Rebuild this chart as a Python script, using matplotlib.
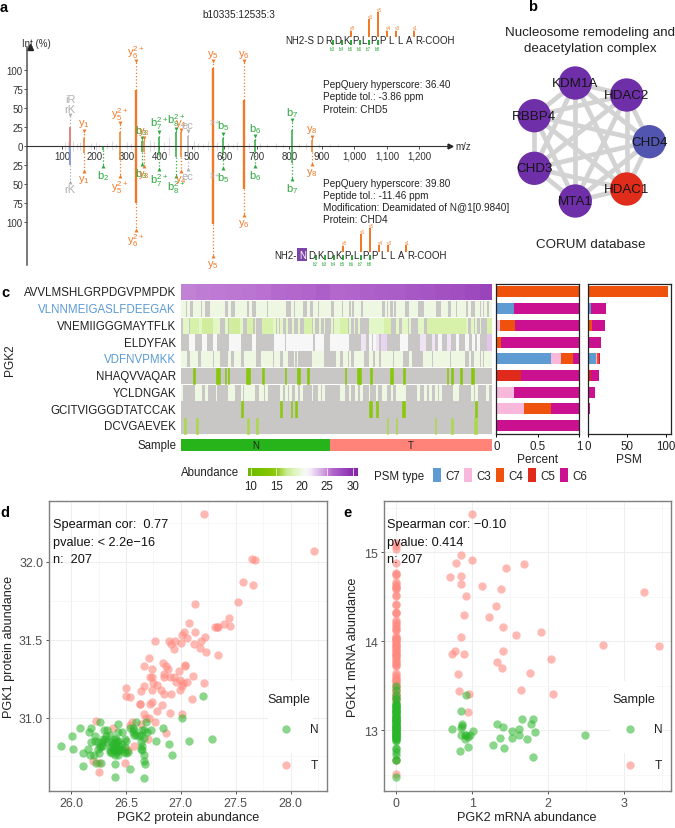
import numpy as np
import matplotlib
matplotlib.use('Agg')
import matplotlib.pyplot as plt
from matplotlib.colors import LinearSegmentedColormap
from matplotlib.cm import ScalarMappable
from matplotlib.colors import Normalize
from matplotlib.patches import Rectangle

plt.rcParams['font.family'] = ['Liberation Sans', 'DejaVu Sans']
plt.rcParams['mathtext.default'] = 'regular'

W, H = 675, 829

# panel a: spectrum
peak_mz = [125, 168, 226, 278, 328, 345, 352, 398, 450, 467, 487, 564, 596, 660, 694, 807, 869]
peak_kind = ['g', 'y', 'b', 'y', 'y', 'b', 'y', 'b', 'b', 'y', 'g', 'y', 'b', 'y', 'b', 'b', 'y']
peak_names = ['rK', 'y$_1$', 'b$_2$', 'y$_5^{2+}$', 'y$_6^{2+}$', 'b$_3$', 'y$_3$', 'b$_7^{2+}$',
              'b$_8^{2+}$', 'y$_4$', 'ec', 'y$_5$', 'b$_5$', 'y$_6$', 'b$_6$', 'b$_7$', 'y$_8$']
top_int = [25, 10, 0, 18, 73, 6, 6, 12, 18, 18, 13, 102, 10, 60, 8, 21, 8]
top_mark = [40, 20, np.nan, 30, 111, 10, 10, 18, 22, 21, 19, 111, 16, 111, 13, 34, 12]
bot_int = [25, 10, 5, 18, 75, 8, 8, 12, 15, 14, 12, 103, 10, 57, 8, 22, 8]
bot_mark = [47, 33, 26, 40, 110, 24, 26, 30, 40, 33, 30, 145, 29, 91, 26, 44, 24]
noise_mz = [108, 118, 135, 145, 155, 190, 205, 215, 240, 255, 265, 300, 312, 372, 382, 415, 430,
            505, 520, 535, 550, 578, 612, 625, 640, 675, 710, 730, 760, 780, 830, 850, 890, 925, 950]
noise_int = [5, 6, 7, 4, 5, 4, 5, 3, 4, 6, 3, 5, 4, 8, 6, 5, 12, 7, 4, 3, 6, 5, 4, 3, 5, 4, 4, 3, 4, 3, 3, 4, 3, 2, 2]

mz_ticks = [100, 200, 300, 400, 500, 600, 700, 800, 900, 1000, 1100, 1200]
mz_labels = ['100', '200', '300', '400', '500', '600', '700', '800', '900', '1,000', '1,100', '1,200']
int_ticks = [100, 75, 50, 25, 0, -25, -50, -75, -100]

top_residues = ['', 'D', 'R', 'D', 'K', 'P', 'L', 'P', 'P', 'L', 'L', 'A', 'R']
bot_residues = ['N', 'D', 'K', 'D', 'K', 'P', 'L', 'P', 'P', 'L', 'L', 'A', 'R']
y_sites = [4.5, 6.5, 7.5, 8.5, 9.5, 11.5]
y_site_names = ['y8', 'y6', 'y5', 'y4', 'y3', 'y1']
top_y_heights = [20, 55, 75, 20, 20, 20]
bot_y_heights = [20, 55, 72, 22, 22, 22]
top_b_sites = [2.5, 3.5, 4.5, 5.5, 6.5, 7.5]
top_b_names = ['b3', 'b4', 'b5', 'b6', 'b7', 'b8']
bot_b_sites = [1.5, 2.5, 3.5, 4.5, 5.5, 6.5, 7.5]
bot_b_names = ['b2', 'b3', 'b4', 'b5', 'b6', 'b7', 'b8']

# panel b: complex members
net_names = ['KDM1A', 'HDAC2', 'CHD4', 'HDAC1', 'MTA1', 'CHD3', 'RBBP4']
net_x = [575.3, 626.7, 649.3, 626.7, 575.3, 534.3, 534.3]
net_y = [84, 96, 142.7, 190, 202, 169.3, 116.7]
net_colors = ['#6e2fa8', '#6e2fa8', '#5255b0', '#e02c1a', '#6e2fa8', '#6e2fa8', '#6e2fa8']

# panel c: heatmap, runs of samples (first, last[, abundance])
n_samples = 207
n_normal = 99
peptides = ['AVVLMSHLGRPDGVPMPDK', 'VLNNMEIGASLFDEEGAK', 'VNEMIIGGGMAYTFLK', 'ELDYFAK', 'VDFNVPMKK',
            'NHAQVVAQAR', 'YCLDNGAK', 'GCITVIGGGDTATCCAK', 'DCVGAEVEK']
pep_colors = ['#222222', '#5b9bd5', '#222222', '#222222', '#5b9bd5', '#222222', '#222222', '#222222', '#222222']
row_avvl = [(0, 9, 25.2), (10, 19, 25.3), (20, 29, 25.4), (30, 39, 25.5), (40, 49, 25.6), (50, 59, 25.7),
            (60, 69, 25.9), (70, 79, 26.0), (80, 89, 26.2), (90, 98, 26.5), (99, 108, 26.0), (109, 118, 26.2),
            (119, 128, 26.4), (129, 138, 26.6), (139, 148, 26.8), (149, 158, 27.0), (159, 168, 27.2),
            (169, 178, 27.5), (179, 188, 27.7), (189, 198, 28.0), (199, 206, 28.4)]
row_vlnn = [(0, 2), (4, 5), (8, 9), (10, 12), (14, 15), (19, 22), (23, 28), (31, 32), (36, 37), (38, 43), (45, 46),
            (50, 56), (58, 69), (73, 74), (76, 77), (78, 80), (84, 85), (88, 90), (92, 99), (102, 106), (108, 109),
            (110, 111), (113, 113), (115, 119), (121, 123), (124, 129), (130, 133), (136, 136), (138, 138),
            (141, 141), (143, 145), (146, 148), (152, 157), (162, 169), (173, 177), (180, 182), (184, 189),
            (191, 192), (196, 198), (200, 200), (202, 203), (205, 206)]
row_vnem = [(1, 4), (6, 7, 18), (8, 11, 18), (12, 13), (14, 20, 17.5), (21, 23), (24, 25), (29, 30), (32, 38, 17.5),
            (39, 40), (44, 47, 18), (49, 49), (54, 60, 18), (61, 62), (64, 64), (66, 67), (70, 70), (74, 74),
            (78, 78), (82, 86, 18), (88, 88), (92, 92), (95, 95), (100, 100), (102, 105), (106, 110, 18), (112, 112),
            (115, 115), (118, 118), (125, 126), (127, 129), (130, 131), (132, 134), (135, 139, 18), (143, 144),
            (147, 150), (152, 152), (158, 161), (164, 175, 18), (176, 183, 18), (184, 189, 18), (190, 190),
            (193, 194), (196, 196), (199, 199), (204, 206, 18)]
row_eldy = [(5, 6), (7, 8), (14, 16), (21, 23), (32, 35), (36, 39), (47, 49), (62, 64), (65, 68), (70, 77), (78, 80),
            (81, 87), (89, 94), (99, 101), (102, 104), (105, 108), (109, 111), (120, 122, 22), (125, 126), (128, 129),
            (130, 131, 22), (133, 136, 22.5), (146, 150), (159, 162, 22), (167, 168, 22), (171, 173), (177, 179, 22),
            (183, 184), (189, 191), (194, 195), (197, 198), (204, 206, 23)]
row_vdfn = [(0, 1), (2, 3), (6, 7), (8, 10), (13, 16), (17, 20), (22, 25), (31, 32), (35, 38), (39, 39), (42, 46),
            (47, 49), (53, 55), (56, 60), (62, 65), (68, 70), (75, 75), (77, 77), (87, 94), (103, 105), (108, 110),
            (112, 112), (115, 121), (125, 127), (129, 131), (133, 140), (142, 147), (152, 153), (161, 166),
            (168, 172), (173, 178), (180, 187), (188, 188), (192, 192), (195, 198), (200, 200), (202, 206)]
row_nhaq = [(8, 8), (23, 25), (29, 29), (31, 31), (43, 44), (45, 45), (54, 54), (69, 69), (77, 78), (84, 84),
            (109, 109), (117, 118), (119, 119), (126, 126), (139, 140), (148, 148), (177, 177), (180, 180),
            (186, 186), (193, 194)]
row_ycld = [(0, 0), (9, 9), (10, 11), (12, 13), (16, 17), (23, 23), (31, 35), (40, 40), (42, 44), (45, 46), (47, 48),
            (52, 52), (53, 54), (56, 57), (66, 67), (69, 70), (72, 73), (76, 77), (79, 80), (87, 87), (91, 92),
            (94, 95), (106, 108), (112, 112), (116, 117), (119, 120), (125, 125), (130, 130), (134, 136), (140, 140),
            (143, 146), (147, 149), (157, 158), (162, 163), (165, 166), (169, 170), (172, 173), (181, 184),
            (193, 194), (196, 197), (203, 204)]
row_gcit = [(40, 40), (66, 66), (73, 73), (76, 76), (125, 126), (130, 130), (147, 148), (196, 196)]
row_dcvg = [(2, 2), (10, 10), (44, 44), (50, 50), (137, 137), (143, 143), (169, 169), (180, 180), (195, 196)]
row_runs = [row_avvl, row_vlnn, row_vnem, row_eldy, row_vdfn, row_nhaq, row_ycld, row_gcit, row_dcvg]
row_default = [25, 20, 19, 21, 20, 14, 20, 14.5, 16]

# panel c: PSM stacks
psm_types = ['C7', 'C3', 'C4', 'C5', 'C6']
psm_colors = ['#5e9bd3', '#f7b8dc', '#ee520c', '#df2a1c', '#cc1190']
pct_c7 = [0, 0.21, 0, 0, 0.66, 0, 0, 0, 0]
pct_c3 = [0, 0, 0.04, 0, 0.125, 0, 0.215, 0.33, 0]
pct_c4 = [1.0, 0, 0.18, 0.055, 0.135, 0, 0, 0.33, 0]
pct_c5 = [0, 0, 0, 0, 0, 0.30, 0, 0, 0]
pct_c6 = [0, 0.79, 0.78, 0.945, 0.08, 0.70, 0.785, 0.34, 1.0]
psm_c7 = [0, 4, 0, 0, 10, 0, 0, 0, 0]
psm_c3 = [1, 0, 1, 0, 2, 0, 2, 1, 0]
psm_c4 = [101, 0, 4, 1, 2, 0, 0, 1, 0]
psm_c5 = [0, 0, 0, 0, 0, 4, 0, 0, 0]
psm_c6 = [0, 19.5, 17, 15.7, 1.5, 10, 7.4, 1.4, 1.7]

# panel d: protein abundance
d_t_x = [27.21, 28.21, 27.65, 27.68, 27.57, 27.66, 27.52, 27.13, 27.44, 27.07, 27.39, 27.45, 27.31, 27.33, 27.34,
         27.03, 27.13, 27.01, 27.06, 27.22, 26.76, 26.89, 26.95, 27.00, 27.18, 27.12, 26.91, 27.17, 26.94, 27.23,
         27.34, 26.71, 26.84, 26.86, 27.04, 27.04, 26.66, 26.88, 26.74, 26.98, 26.85, 27.11, 26.85, 26.72, 26.74,
         26.90, 26.94, 26.99, 26.75, 26.78, 27.06, 26.96, 27.02, 27.21, 27.01, 26.99, 26.82, 26.74, 26.66, 26.50,
         26.64, 26.85, 26.91, 26.50, 26.54, 27.10, 26.63, 26.63, 26.74, 26.72, 26.83, 26.78, 26.90, 27.01, 26.66,
         26.71, 26.68, 26.76, 26.23, 26.55, 26.64, 26.54, 26.38, 26.86, 26.70, 26.57, 26.49, 26.20, 26.25, 26.25,
         26.50, 26.52, 26.44]
d_t_y = [32.31, 32.07, 32.02, 32.01, 31.87, 31.85, 31.74, 31.73, 31.64, 31.61, 31.60, 31.59, 31.58, 31.58, 31.58,
         31.55, 31.55, 31.53, 31.51, 31.52, 31.49, 31.49, 31.49, 31.48, 31.49, 31.47, 31.47, 31.45, 31.44, 31.42,
         31.40, 31.38, 31.35, 31.33, 31.34, 31.33, 31.33, 31.31, 31.31, 31.30, 31.28, 31.27, 31.26, 31.26, 31.26,
         31.26, 31.26, 31.24, 31.22, 31.21, 31.23, 31.23, 31.22, 31.22, 31.20, 31.18, 31.18, 31.18, 31.20, 31.19,
         31.17, 31.15, 31.15, 31.14, 31.13, 31.12, 31.09, 31.09, 31.10, 31.09, 31.08, 31.04, 31.03, 31.02, 31.02,
         31.00, 31.00, 30.97, 30.98, 30.97, 30.96, 30.95, 30.93, 30.90, 30.86, 30.82, 30.71, 30.72, 30.71, 30.65,
         30.79, 30.79, 30.79]
d_n_x = [25.91, 26.01, 26.02, 26.08, 26.11, 26.11, 26.15, 26.16, 26.18, 26.17, 26.18, 26.22, 26.21, 26.22, 26.23,
         26.24, 26.26, 26.27, 26.25, 26.27, 26.29, 26.28, 26.30, 26.33, 26.32, 26.35, 26.36, 26.35, 26.38, 26.40,
         26.42, 26.43, 26.38, 26.41, 26.44, 26.46, 26.49, 26.40, 26.43, 26.40, 26.43, 26.43, 26.46, 26.48, 26.52,
         26.54, 26.57, 26.59, 26.54, 26.40, 26.57, 26.59, 26.62, 26.66, 26.69, 26.64, 26.65, 26.65, 26.66, 26.67,
         26.66, 26.66, 26.68, 26.73, 26.77, 26.84, 26.89, 26.92, 27.20, 27.01, 27.07, 27.28, 26.33, 26.36, 26.40,
         26.43, 26.44, 26.39, 26.41, 26.46, 26.35, 26.37, 26.42, 26.50, 26.56, 26.56, 26.65, 26.64, 26.64, 26.66,
         26.50, 26.26, 26.29, 26.24, 26.31, 26.40, 26.49]
d_n_y = [30.82, 30.88, 30.80, 30.93, 30.69, 30.77, 30.80, 30.91, 30.93, 30.76, 30.84, 30.85, 30.76, 30.88, 30.71,
         30.80, 30.97, 30.71, 30.77, 30.82, 30.86, 30.84, 30.92, 30.92, 30.88, 30.89, 30.84, 30.79, 30.83, 30.82,
         30.84, 30.85, 30.80, 30.80, 30.82, 30.83, 30.81, 30.76, 30.76, 30.70, 30.96, 30.91, 30.91, 30.78, 30.78,
         30.93, 30.92, 30.97, 30.67, 30.62, 30.89, 30.89, 30.88, 30.92, 30.91, 30.84, 30.79, 30.82, 30.76, 30.70,
         30.72, 30.61, 30.97, 30.92, 30.85, 30.93, 30.83, 30.76, 31.14, 31.00, 30.85, 30.86, 30.84, 30.81, 30.79,
         30.79, 30.79, 30.86, 30.86, 30.80, 30.78, 30.77, 30.78, 30.85, 30.91, 30.93, 30.92, 30.89, 30.80, 30.87,
         30.77, 30.81, 30.82, 30.84, 30.86, 30.84, 30.86]

# panel e: mRNA abundance, off the zero column
e_t_x = [1.00, 0.86, 0.79, 1.00, 1.45, 1.68, 0.71, 0.85, 0.86, 1.13, 1.38, 0.92, 3.26, 1.32, 0.89, 1.22, 1.40, 1.58,
         1.91, 0.86, 0.77, 0.73, 0.89, 1.41, 2.72, 3.45, 1.33, 1.39, 2.04, 0.81, 1.76, 0.83, 0.96, 1.64, 2.06, 0.94]
e_t_y = [15.43, 14.97, 14.88, 14.91, 14.82, 14.87, 14.72, 14.73, 14.64, 14.62, 14.58, 14.51, 14.55, 14.39, 14.29,
         14.27, 14.16, 14.07, 14.10, 14.05, 13.89, 13.85, 13.85, 13.89, 13.96, 13.94, 13.77, 13.70, 13.80, 13.63,
         13.64, 13.44, 13.41, 13.45, 13.41, 13.20]
e_n_x = [0.92, 0.86, 1.65, 1.80, 1.78, 0.87, 0.87, 1.33, 1.41, 0.73, 0.86, 1.62, 1.53, 1.82, 1.01, 0.86, 0.91, 0.92,
         0.90, 0.95, 0.97, 1.62, 1.53, 1.36, 1.72, 2.48, 1.27, 1.42, 0.94, 0.84, 1.80]
e_n_y = [13.39, 13.21, 13.13, 13.12, 13.07, 13.07, 13.05, 13.07, 13.04, 13.01, 13.02, 13.01, 12.99, 12.98, 12.99,
         12.94, 12.95, 12.94, 12.90, 12.92, 12.95, 12.94, 12.91, 12.91, 12.90, 12.95, 12.83, 12.80, 12.81, 12.77, 12.70]
# samples with no PGK2 mRNA sit on x = 0
e_t_zero = [15.10, 15.07, 15.03, 14.88, 14.76, 14.75, 14.74, 14.66, 14.64, 14.62, 14.61, 14.60, 14.58, 14.52, 14.51,
            14.42, 14.40, 14.33, 14.32, 14.31, 14.24, 14.22, 14.19, 14.17, 14.15, 14.13, 14.12, 14.06, 14.04, 14.03,
            14.02, 14.01, 14.00, 13.98, 13.97, 13.95, 13.94, 13.93, 13.91, 13.90, 13.89, 13.87, 13.86, 13.84, 13.83,
            13.82, 13.80, 13.78, 13.76, 13.74, 13.73, 13.72, 13.64, 13.62, 13.60, 13.58, 13.57, 13.55, 13.54, 13.52,
            13.50, 13.47, 13.45, 13.43, 13.41, 13.40, 13.38, 13.36, 13.35, 13.33, 12.66, 12.51]
e_n_zero = [13.50, 13.45, 13.40, 13.36, 13.35, 13.30, 13.29, 13.28, 13.27, 13.26, 13.25, 13.24, 13.23, 13.22, 13.21,
            13.20, 13.19, 13.18, 13.17, 13.16, 13.15, 13.14, 13.13, 13.12, 13.11, 13.10, 13.09, 13.08, 13.07, 13.06,
            13.05, 13.04, 13.03, 13.02, 13.01, 13.00, 12.99, 12.98, 12.97, 12.96, 12.95, 12.94, 12.93, 12.92, 12.91,
            12.90, 12.89, 12.88, 13.27, 13.21, 13.15, 13.09, 13.03, 12.97, 12.91, 13.01, 13.05, 12.99, 12.93, 13.11,
            12.80, 12.79, 12.75, 12.72, 12.66, 12.66, 12.47]

GREEN = '#2ab52a'
SALMON = '#ff8a80'
ORANGE = '#f07a28'
BGREEN = '#2ca83c'
GRAY = '#b0b0b0'
kind_color = {'y': ORANGE, 'b': BGREEN, 'g': GRAY}

fig = plt.figure(figsize=(W / 100, H / 100), dpi=100)


def px_axes(x0, y0, x1, y1, **kw):
    return fig.add_axes([x0 / W, 1 - y1 / H, (x1 - x0) / W, (y1 - y0) / H], **kw)


# overlay in pixels for text and the network
ov = px_axes(0, 0, W, H)
ov.set_xlim(0, W)
ov.set_ylim(H, 0)
ov.axis('off')
ov.set_zorder(5)
ov.patch.set_alpha(0)


def txt(x, y, s, size=9.2, ha='left', va='center', **kw):
    ov.text(x, y, s, fontsize=size, ha=ha, va=va, **kw)


for x, y, s in [(4, 8, 'a'), (532.7, 7, 'b'), (5, 293, 'c'), (5, 513, 'd'), (348, 513, 'e')]:
    txt(x, y, s, size=10.5, ha='center', fontweight='bold')

# ---------- panel a ----------
ax = px_axes(27, 48, 450, 266)
ax.patch.set_alpha(0)
ax.set_xlim(-7.7, 1294)
ax.set_ylim(-156.6, 130)
for s in ['top', 'right']:
    ax.spines[s].set_visible(False)
ax.spines['bottom'].set_position(('data', 0))
ax.spines['bottom'].set_color('#333333')
ax.spines['left'].set_color('#555555')
ax.spines['left'].set_linewidth(1.1)
ax.plot(1, 0, '>', color='#222222', ms=3.5, transform=ax.get_yaxis_transform(), clip_on=False)
ax.plot(0, 1, '^', color='#222222', ms=4, transform=ax.get_xaxis_transform(), clip_on=False)
ax.set_xticks(mz_ticks)
ax.set_xticklabels(mz_labels)
ax.set_yticks(int_ticks)
ax.set_yticklabels([str(abs(v)) for v in int_ticks])
ax.tick_params(axis='x', labelsize=7, length=2, width=0.6, pad=1.5, colors='#333333')
ax.tick_params(axis='y', labelsize=7, length=2, width=0.6, pad=1, colors='#333333')

ax.vlines(noise_mz, 0, noise_int, color='#dcdcdc', lw=0.8)
ax.vlines(noise_mz, 0, -np.array(noise_int), color='#dcdcdc', lw=0.8)

for i, mz in enumerate(peak_mz):
    col = kind_color[peak_kind[i]]
    tall = top_int[i] > 40
    lw = 1.7 if tall else 1.1
    top_col = '#d9605a' if peak_names[i] == 'rK' else col
    bot_col = '#7080d0' if peak_names[i] == 'rK' else col
    ax.vlines(mz, 0, top_int[i], color=top_col, lw=lw)
    ax.vlines(mz, 0, -bot_int[i], color=bot_col, lw=lw)
    if not np.isnan(top_mark[i]):
        ax.vlines(mz, top_int[i], top_mark[i], color=col, lw=0.9, linestyles=':')
        ax.scatter(mz, top_mark[i], marker='v', s=8, color=col, lw=0)
        name = 'iR\nrK' if peak_names[i] == 'rK' else peak_names[i]
        ax.annotate(name, (mz, top_mark[i]), xytext=(0, 1), textcoords='offset points', ha='center',
                    va='bottom', fontsize=8, color=col, linespacing=1.0)
    ax.vlines(mz, -bot_int[i], -bot_mark[i], color=col, lw=0.9, linestyles=':')
    ax.scatter(mz, -bot_mark[i], marker='^', s=8, color=col, lw=0)
    ax.annotate(peak_names[i], (mz, -bot_mark[i]), xytext=(0, -1.5), textcoords='offset points', ha='center',
                va='top', fontsize=8, color=col)
    if peak_names[i] == 'ec':
        ax.annotate('$^{3+}$', (mz, top_mark[i]), xytext=(15, 3), textcoords='offset points', fontsize=7.5, color=col)
        ax.annotate('$^{3+}$', (mz, -bot_mark[i]), xytext=(15, -8), textcoords='offset points', fontsize=7.5, color=col)

txt(36, 43.7, 'Int (%)', size=7, ha='center', color='#333333')
txt(463.3, 147, 'm/z', size=7, ha='center', color='#333333')
txt(238.7, 14.7, 'b10335:12535:3', size=7.2, ha='center', color='#222222')
for y, s in [(85, 'PepQuery hyperscore: 36.40'), (97, 'Peptide tol.: -3.86 ppm'), (109.6, 'Protein: CHD5')]:
    txt(322.7, y, s, size=7.2, color='#222222')
for y, s in [(184, 'PepQuery hyperscore: 39.80'), (196, 'Peptide tol.: -11.46 ppm'),
             (208, 'Modification: Deamidated of N@1[0.9840]'), (220, 'Protein: CHD4')]:
    txt(323.3, y, s, size=7.2, color='#222222')


def draw_peptide(x0, base_y, residues, y_heights, b_sites, b_names, boxed=False):
    # one residue is 9 px, one height unit a third of a px
    pep = px_axes(x0 - 9, base_y - 33.3, x0 + 9 * 13, base_y + 20)
    pep.axis('off')
    pep.set_xlim(-1, 13)
    pep.set_ylim(-60, 100)
    pep.bar(y_sites, y_heights, width=0.16, color=ORANGE, lw=0)
    for x, h, name in zip(y_sites, y_heights, y_site_names):
        pep.text(x + 0.15, h + 1, name, fontsize=3.3, color=ORANGE, ha='center', va='bottom')
    pep.bar(b_sites, [15] * len(b_sites), bottom=-23, width=0.16, color=BGREEN, lw=0)
    for x, name in zip(b_sites, b_names):
        pep.text(x, -35, name, fontsize=3.3, color=BGREEN, ha='center', va='center')
    for i, r in enumerate(residues):
        if boxed and i == 0:
            pep.text(i, -7, r, fontsize=7, color='white', ha='center', va='center',
                     bbox=dict(boxstyle='square,pad=0.15', fc='#7b45a8', ec='none'))
        elif i == len(residues) - 1:
            pep.text(i - 0.35, -7, r + '-COOH', fontsize=7, color='#222222', ha='left', va='center')
        else:
            pep.text(i, -7, r, fontsize=7, color='#222222', ha='center', va='center')
    if boxed:
        pep.text(-0.65, -7, 'NH2-', fontsize=7, color='#222222', ha='right', va='center')
    else:
        pep.text(0.4, -7, 'NH2-S', fontsize=7, color='#222222', ha='right', va='center')


draw_peptide(310.3, 38.3, top_residues, top_y_heights, top_b_sites, top_b_names)
draw_peptide(302.3, 253.3, bot_residues, bot_y_heights, bot_b_sites, bot_b_names, boxed=True)

# ---------- panel b ----------
txt(590, 33, 'Nucleosome remodeling and', size=9.6, ha='center', color='#222222')
txt(590, 49, 'deacetylation complex', size=9.6, ha='center', color='#222222')
txt(591, 245, 'CORUM database', size=9.6, ha='center', color='#222222')
for i in range(7):
    for j in range(i + 1, 7):
        ov.plot([net_x[i], net_x[j]], [net_y[i], net_y[j]], color='#d4d3d3', lw=3.4, zorder=1, solid_capstyle='butt')
ov.scatter(net_x, net_y, s=576, c=net_colors, lw=0, zorder=2)
for x, y, s in zip(net_x, net_y, net_names):
    ov.text(x, y, s, fontsize=9.6, ha='center', va='center', color='#151515', zorder=3)

# ---------- panel c ----------
cmap = LinearSegmentedColormap.from_list('abund', [
    (0.0, '#6db800'), (0.16, '#7ec400'), (0.26, '#8fca10'), (0.35, '#cbe98f'), (0.44, '#e2f6c4'), (0.53, '#f8f8f8'),
    (0.58, '#f0e4f4'), (0.67, '#d7a9e3'), (0.77, '#b266cc'), (0.95, '#8a2fb0'), (1.0, '#8029a8')])
norm = Normalize(9.5, 31)

row_top, row_bottom = 285, 435.7
heat = px_axes(181, row_top, 491.7, row_bottom)
for r, runs in enumerate(row_runs):
    heat.barh(r, n_samples, left=0, height=0.97, color='#c9c6c6', lw=0)
    for run in runs:
        val = run[2] if len(run) == 3 else row_default[r]
        c = cmap(norm(val))
        # the sparse green rows have single-sample lines, keep them visible
        heat.barh(r, run[1] - run[0] + 1, left=run[0], height=0.97, color=c, edgecolor=c,
                  lw=0.4 if r in (5, 7, 8) else 0)
heat.set_xlim(0, n_samples)
heat.set_ylim(len(peptides) - 0.5, -0.5)
heat.axis('off')

row_h = (row_bottom - row_top) / len(peptides)
for i, (p, c) in enumerate(zip(peptides, pep_colors)):
    txt(176, row_top + row_h * (i + 0.5), p, size=8.3, ha='right', color=c)
txt(10, 360, 'PGK2', size=8.6, ha='center', rotation=90, color='#222222')

samp = px_axes(181, 440, 491.7, 452)
samp.barh(0, n_normal, left=0, height=1, color='#27b31a')
samp.barh(0, n_samples - n_normal, left=n_normal, height=1, color='#ff8379')
samp.text(n_normal / 2, 0, 'N', ha='center', va='center', fontsize=7, color='#222222')
samp.text((n_samples + n_normal) / 2, 0, 'T', ha='center', va='center', fontsize=7, color='#222222')
samp.set_xlim(0, n_samples)
samp.set_ylim(-0.5, 0.5)
samp.axis('off')
txt(176, 446, 'Sample', size=8.3, ha='right', color='#222222')

# abundance colour bar
cax = px_axes(248, 469, 358, 477)
cb = fig.colorbar(ScalarMappable(norm=norm, cmap=cmap), cax=cax, orientation='horizontal')
cb.set_ticks([10, 15, 20, 25, 30])
cb.outline.set_visible(False)
cb.ax.tick_params(labelsize=8.3, length=0, pad=3, labelcolor='#222222')
cb.ax.vlines([10, 15, 20, 25, 30], 0, 1, color='white', lw=0.5, transform=cb.ax.get_xaxis_transform())
txt(181, 473, 'Abundance', size=8.3, color='#222222')

# stacked bars
y_pos = np.arange(len(peptides))
for bx0, bx1, stacks, xlim, xticks, xlabs, xlabel in [
        (496.3, 579.3, [pct_c7, pct_c3, pct_c4, pct_c5, pct_c6], (0, 1), [0, 0.5, 1], ['0', '0.5', '1'], 'Percent'),
        (587.7, 670.7, [psm_c7, psm_c3, psm_c4, psm_c5, psm_c6], (0, 106), [0, 50, 100], ['0', '50', '100'], 'PSM')]:
    bar_ax = px_axes(bx0, 284.5, bx1, 435)
    left = np.zeros(len(peptides))
    for vals, col in zip(stacks, psm_colors):
        bar_ax.barh(y_pos, vals, left=left, height=0.66, color=col, lw=0)
        left = left + np.array(vals)
    bar_ax.set_xlim(*xlim)
    bar_ax.set_ylim(len(peptides) - 0.5, -0.5)
    bar_ax.set_yticks([])
    bar_ax.set_xticks(xticks)
    bar_ax.set_xticklabels(xlabs)
    bar_ax.tick_params(axis='x', labelsize=8.3, length=2.5, width=0.7, pad=2, labelcolor='#222222')
    bar_ax.set_xlabel(xlabel, fontsize=8.6, labelpad=0.5, color='#222222')
    for s in bar_ax.spines.values():
        s.set_linewidth(0.9)
        s.set_color('#222222')

txt(374, 477, 'PSM type', size=8.3, color='#222222')
patch_x = [433, 464.3, 496.3, 528.3, 560]
for x, name, col in zip(patch_x, psm_types, psm_colors):
    ov.add_patch(Rectangle((x, 469), 8, 14, fc=col, ec='none'))
    txt(x + 12, 476.5, name, size=8.3, color='#222222')


# ---------- panels d and e ----------
def scatter_panel(box, xlim, ylim, xticks, yticks, xminor, yminor, xfmt, yfmt, xlabel, ylabel, nx, ny, tx, ty):
    a = px_axes(*box)
    a.scatter(tx, ty, s=36, color=SALMON, alpha=0.6, lw=0, zorder=3)
    a.scatter(nx, ny, s=36, color=GREEN, alpha=0.55, lw=0, zorder=3)
    a.set_xlim(*xlim)
    a.set_ylim(*ylim)
    a.set_xticks(xticks)
    a.set_xticklabels([xfmt % v for v in xticks])
    a.set_yticks(yticks)
    a.set_yticklabels([yfmt % v for v in yticks])
    a.set_xticks(xminor, minor=True)
    a.set_yticks(yminor, minor=True)
    a.grid(True, which='major', color='#eeeeee', lw=0.8)
    a.grid(True, which='minor', color='#f4f4f4', lw=0.5)
    a.set_axisbelow(True)
    a.tick_params(which='major', labelsize=8.9, length=2.5, width=0.7, color='#555555', labelcolor='#4d4d4d', pad=2)
    a.tick_params(which='minor', length=0)
    a.set_xlabel(xlabel, fontsize=9.1, labelpad=1.5, color='#222222')
    a.set_ylabel(ylabel, fontsize=9.1, labelpad=3, color='#222222')
    for s in a.spines.values():
        s.set_color('#7f7f7f')
        s.set_linewidth(1.0)
    a.add_patch(Rectangle((0.79, 0.13), 0.16, 0.25, transform=a.transAxes, fc='white', ec='none', zorder=2))
    return a


scatter_panel((49.3, 502.3, 326.7, 791.7), (25.80, 28.33), (30.53, 32.39), [26, 26.5, 27, 27.5, 28],
              [31, 31.5, 32], [25.75 + 0.5 * i for i in range(1, 6)], [30.75, 31.25, 31.75, 32.25],
              '%.1f', '%.1f', 'PGK2 protein abundance', 'PGK1 protein abundance', d_n_x, d_n_y, d_t_x, d_t_y)
scatter_panel((383.7, 502.3, 670.7, 791.7), (-0.162, 3.61), (12.32, 15.57), [0, 1, 2, 3], [13, 14, 15],
              [0.5, 1.5, 2.5, 3.5], [12.5, 13.5, 14.5, 15.5], '%d', '%d', 'PGK2 mRNA abundance',
              'PGK1 mRNA abundance', [0] * len(e_n_zero) + e_n_x, e_n_zero + e_n_y,
              [0] * len(e_t_zero) + e_t_x, e_t_zero + e_t_y)

for x, lines in [(53, ['Spearman cor:  0.77', 'pvalue: < 2.2e\u221216', 'n:  207']),
                 (386.7, ['Spearman cor: \u22120.10', 'pvalue: 0.414', 'n: 207'])]:
    for y, s in zip([525, 543, 560], lines):
        txt(x, y, s, size=9.2, color='#111111')

for sx, gx, lx in [(289, 285.7, 314), (633.7, 630, 658.3)]:
    txt(sx, 700, 'Sample', size=9.1, ha='center', color='#222222')
    ov.scatter(gx, 730, s=36, color=GREEN, alpha=0.55, lw=0)
    ov.scatter(gx, 766, s=36, color=SALMON, alpha=0.6, lw=0)
    txt(lx, 730, 'N', size=8.6, ha='center', color='#222222')
    txt(lx, 766, 'T', size=8.6, ha='center', color='#222222')

fig.savefig('out.png', dpi=100)
